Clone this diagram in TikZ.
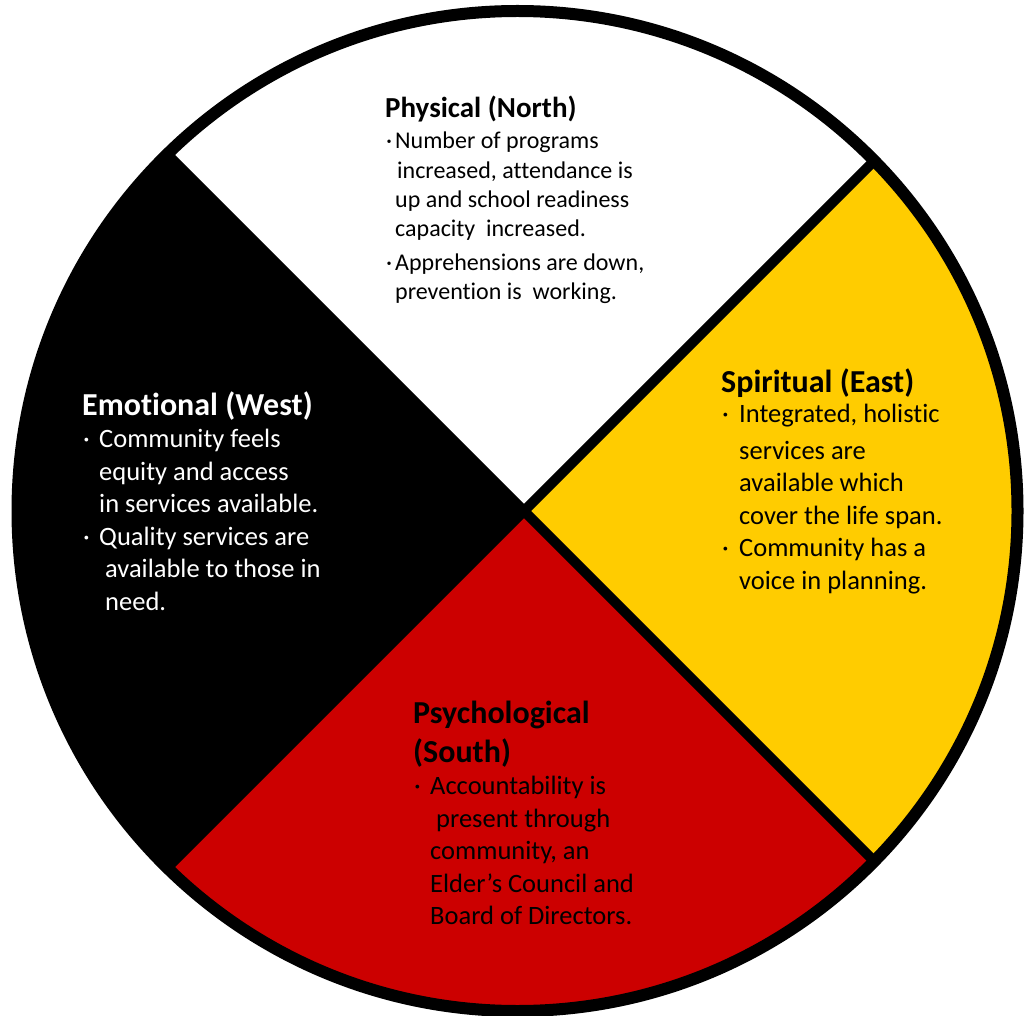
\documentclass[tikz,border=0pt]{standalone}
\usepackage{fontspec}
\setmainfont{Carlito}[Ligatures=NoCommon]
\usetikzlibrary{calc}
\definecolor{wheelyellow}{HTML}{FFCC00}
\definecolor{wheelred}{HTML}{CC0000}
\newcommand{\bul}[1]{\makebox[#1][l]{\hspace{1pt}·}}
\newcommand{\ind}[1]{\hspace*{#1}}

\begin{document}
\begin{tikzpicture}[x=1pt, y=-1pt,
  quad head/.style={anchor=base west, inner sep=0pt, font=\fontsize{32}{38}\selectfont\bfseries},
  quad text/.style={anchor=north west, inner sep=0pt, align=left, font=\fontsize{26.5}{32.5}\selectfont},
  spoke/.style={line width=10pt},
  rim/.style={line width=12pt}
]
\useasboundingbox (0,0) rectangle (1026,1016);
\coordinate (hub) at (524,511);
\coordinate (mid) at (517.5,511);
\coordinate (nw) at ($(hub)+(-600,-600)$);
\coordinate (ne) at ($(hub)+(600,-600)$);
\coordinate (se) at ($(hub)+(600,600)$);
\coordinate (sw) at ($(hub)+(-600,600)$);

\begin{scope}
\clip (mid) circle (500pt);
\fill[white] (hub) -- (nw) -- (ne) -- cycle;
\fill[wheelyellow] (hub) -- (ne) -- (se) -- cycle;
\fill[wheelred] (hub) -- (se) -- (sw) -- cycle;
\fill[black] (hub) -- (sw) -- (nw) -- cycle;
\draw[spoke] (nw) -- (se);
\draw[spoke] (ne) -- (sw);
\end{scope}
\draw[rim] (mid) circle (500pt);

\node[quad head, font=\fontsize{29}{35}\selectfont\bfseries] (northhead) at (385,118) {Physical (North)};
\node[quad text, font=\fontsize{24}{29.3}\selectfont] (northtext) at (385,132)
  {\bul{10pt}Number of programs\\
   \ind{12pt}increased, attendance is\\
   \ind{10pt}up and school readiness\\
   \ind{10pt}capacity\ \ increased.\\[4pt]
   \bul{10pt}Apprehensions are down,\\
   \ind{10pt}prevention is\ \ working.};

\node[quad head, text=white] (westhead) at (82,416) {Emotional (West)};
\node[quad text, text=white] (westtext) at (82,429)
  {\bul{17pt}Community feels\\
   \ind{17pt}equity and access\\
   \ind{17pt}in services available.\\
   \bul{17pt}Quality services are\\
   \ind{23pt}available to those in\\
   \ind{23pt}need.};

\node[quad head] (easthead) at (721,392) {Spiritual (East)};
\node[quad text] (easttext) at (721,404)
  {\bul{18pt}Integrated, holistic\\[4pt]
   \ind{18pt}services are\\
   \ind{18pt}available which\\
   \ind{18pt}cover the life span.\\
   \bul{18pt}Community has a\\
   \ind{18pt}voice in planning.};

\node[quad head] (southhead) at (413,723) {Psychological};
\node[quad head] (southhead2) at (413,762) {(South)};
\node[quad text] (southtext) at (413,776)
  {\bul{17pt}Accountability is\\
   \ind{23pt}present through\\
   \ind{17pt}community, an\\
   \ind{17pt}Elder’s Council and\\
   \ind{17pt}Board of Directors.};
\end{tikzpicture}
\end{document}
